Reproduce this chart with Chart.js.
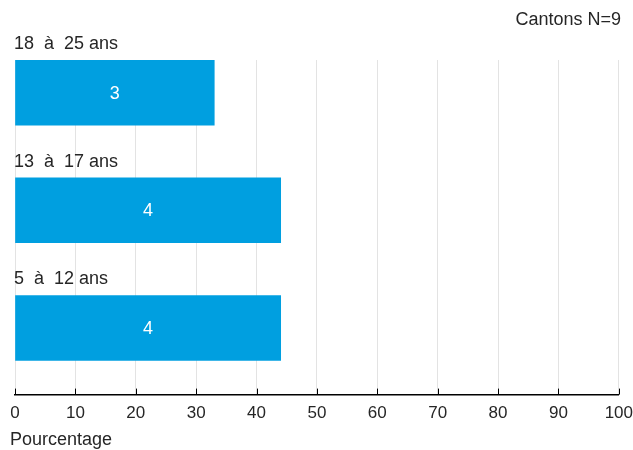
<!DOCTYPE html>
<html>
<head>
<meta charset="utf-8">
<script src="https://cdn.jsdelivr.net/npm/chart.js@4"></script>
<style>
    body { margin: 0; background: #fff; }
    #wrap { width: 633px; height: 450px; }
</style>
</head>
<body>
<div id="wrap"><canvas id="chart"></canvas></div>
<script>
// Tranches d'âge (haut vers bas), pourcentage de cantons, nombre de cantons
const ageGroups = ['18  à  25 ans', '13  à  17 ans', '5  à  12 ans'];
const percentValues = [33, 44, 44];
const cantonCounts = [3, 4, 4];
const xTicks = [0, 10, 20, 30, 40, 50, 60, 70, 80, 90, 100];
const sampleNote = 'Cantons N=9';
const axisTitle = 'Pourcentage';

const FONT = '"Liberation Sans", Arial, sans-serif';
const TEXT = '#262626';

// Labels above bars, counts inside bars, inner tick marks, N note, axis title
const barLabels = {
    id: 'barLabels',
    afterDraw(chart) {
        const ctx = chart.ctx;
        const meta = chart.getDatasetMeta(0);
        ctx.save();
        ctx.font = '18px ' + FONT;
        meta.data.forEach((bar, i) => {
            const top = bar.y - bar.height / 2;
            ctx.fillStyle = TEXT;
            ctx.textAlign = 'left';
            ctx.textBaseline = 'middle';
            ctx.fillText(ageGroups[i], chart.chartArea.left - 1, top - 16);
            ctx.fillStyle = '#fff';
            ctx.textAlign = 'center';
            ctx.fillText(String(cantonCounts[i]), (bar.x + bar.base) / 2, bar.y + 1);
        });

        const xs = chart.scales.x;
        ctx.strokeStyle = '#000';
        ctx.lineWidth = 1;
        xs.ticks.forEach(t => {
            const px = Math.round(xs.getPixelForValue(t.value)) + 0.5;
            ctx.beginPath();
            ctx.moveTo(px, xs.top - 6);
            ctx.lineTo(px, xs.top);
            ctx.stroke();
        });

        ctx.fillStyle = TEXT;
        ctx.textAlign = 'right';
        ctx.textBaseline = 'middle';
        ctx.fillText(sampleNote, chart.width - 12, 20);

        ctx.textAlign = 'left';
        ctx.fillText(axisTitle, 10, 440);
        ctx.restore();
    }
};

const ctx = document.getElementById('chart').getContext('2d');
const chart = new Chart(ctx, {
    type: 'bar',
    data: {
        datasets: [{
            data: percentValues.map((v, i) => ({ x: v, y: i })),
            backgroundColor: '#009FE0',
            borderWidth: 0,
            barThickness: 65
        }]
    },
    options: {
        indexAxis: 'y',
        responsive: true,
        maintainAspectRatio: false,
        animation: false,
        layout: {
            autoPadding: false,
            padding: { top: 60, left: 15, right: 14, bottom: 26 }
        },
        plugins: {
            legend: { display: false },
            tooltip: { enabled: false }
        },
        scales: {
            x: {
                type: 'linear',
                min: 0,
                max: 100,
                afterBuildTicks: scale => {
                    scale.ticks = xTicks.map(v => ({ value: v }));
                },
                grid: {
                    color: '#e3e3e3',
                    lineWidth: 1,
                    drawTicks: true,
                    tickLength: 9,
                    tickColor: 'rgba(0,0,0,0)'
                },
                border: { display: true, color: '#000', width: 1.5 },
                ticks: {
                    color: TEXT,
                    padding: 0,
                    maxRotation: 0,
                    font: { family: FONT, size: 17 }
                }
            },
            y: {
                type: 'linear',
                reverse: true,
                offset: false,
                min: -0.277,
                max: 2.566,
                display: false
            }
        }
    },
    plugins: [barLabels]
});
</script>
</body>
</html>
